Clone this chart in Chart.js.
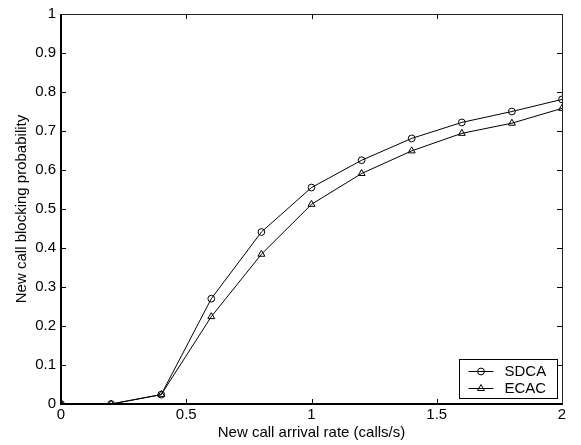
<!DOCTYPE html>
<html>
<head>
<meta charset="utf-8">
<script src="https://cdn.jsdelivr.net/npm/chart.js@4/dist/chart.umd.min.js"></script>
<style>
html,body{margin:0;padding:0;background:#fff;}
canvas{display:block;}
</style>
</head>
<body>
<canvas id="c" width="581" height="445"></canvas>
<script>
const arrivalRates = [0, 0.2, 0.4, 0.6, 0.8, 1.0, 1.2, 1.4, 1.6, 1.8, 2.0];
const sdcaValues = [0, 0, 0.024, 0.27, 0.441, 0.555, 0.625, 0.681, 0.722, 0.750, 0.781];
const ecacValues = [0, 0, 0.024, 0.224, 0.384, 0.512, 0.591, 0.649, 0.694, 0.720, 0.758];
const seriesNames = ['SDCA', 'ECAC'];
const xTickLabels = ['0', '0.5', '1', '1.5', '2'];
const yTickLabels = ['0', '0.1', '0.2', '0.3', '0.4', '0.5', '0.6', '0.7', '0.8', '0.9', '1'];
const xTitle = 'New call arrival rate (calls/s)';
const yTitle = 'New call blocking probability';

const FONT = 'Liberation Sans, Arial, Helvetica, sans-serif';

const frameAndTicks = {
  id: 'frameAndTicks',
  afterDatasetsDraw(chart) {
    const {ctx, chartArea: a, scales} = chart;
    ctx.save();
    ctx.strokeStyle = '#000';
    ctx.lineWidth = 1;
    const tl = 5;
    scales.x.ticks.forEach(t => {
      const p = Math.round(scales.x.getPixelForValue(t.value)) + 0.5;
      ctx.beginPath();
      ctx.moveTo(p, a.bottom); ctx.lineTo(p, a.bottom - tl);
      ctx.moveTo(p, a.top); ctx.lineTo(p, a.top + tl);
      ctx.stroke();
    });
    scales.y.ticks.forEach(t => {
      const p = Math.round(scales.y.getPixelForValue(t.value)) + 0.5;
      ctx.beginPath();
      ctx.moveTo(a.left, p); ctx.lineTo(a.left + tl, p);
      ctx.moveTo(a.right, p); ctx.lineTo(a.right - tl, p);
      ctx.stroke();
    });
    ctx.strokeStyle = '#222';
    ctx.lineWidth = 1;
    ctx.beginPath();
    ctx.moveTo(a.left, a.top + 0.5); ctx.lineTo(a.right + 0.5, a.top + 0.5);
    ctx.lineTo(a.right + 0.5, a.bottom);
    ctx.stroke();
    ctx.strokeStyle = '#000';
    ctx.lineWidth = 2;
    ctx.beginPath();
    ctx.moveTo(a.left, a.top); ctx.lineTo(a.left, a.bottom);
    ctx.lineTo(a.right + 1, a.bottom);
    ctx.stroke();
    ctx.restore();
  },
  afterDraw(chart) {
    const {ctx, chartArea: a} = chart;
    ctx.save();
    const bw = 98, bh = 39;
    const bx = Math.round(a.right - 5 - bw) + 0.5;
    const by = Math.round(a.bottom - 6 - bh) + 0.5;
    ctx.fillStyle = '#fff';
    ctx.fillRect(bx, by, bw, bh);
    ctx.strokeStyle = '#000';
    ctx.lineWidth = 1;
    ctx.strokeRect(bx, by, bw, bh);
    ctx.font = '15px ' + FONT;
    ctx.textBaseline = 'middle';
    chart.data.datasets.forEach((ds, i) => {
      const cy = by + 11 + i * 17.5;
      const x0 = bx + 9, x1 = bx + 34;
      ctx.beginPath();
      ctx.moveTo(x0, Math.round(cy) + 0.5); ctx.lineTo(x1, Math.round(cy) + 0.5);
      ctx.strokeStyle = '#000';
      ctx.lineWidth = 1;
      ctx.stroke();
      ctx.fillStyle = 'rgba(0,0,0,0)';
      Chart.helpers.drawPoint(ctx, {
        pointStyle: ds.pointStyle, rotation: 0, radius: ds.pointRadius, borderWidth: 1
      }, (x0 + x1) / 2, Math.round(cy) + 0.5);
      ctx.fillStyle = '#000';
      ctx.fillText(ds.label, bx + 45, cy + 1);
    });
    ctx.restore();
  }
};

function labelFor(list, value) {
  const found = list.find(s => Math.abs(parseFloat(s) - value) < 1e-6);
  return found !== undefined ? found : '';
}

new Chart(document.getElementById('c'), {
  type: 'line',
  data: {
    datasets: [
      {
        label: seriesNames[0],
        data: arrivalRates.map((x, i) => ({x, y: sdcaValues[i]})),
        borderColor: '#000', borderWidth: 1,
        pointStyle: 'circle', pointRadius: 3.4,
        pointBorderColor: '#000', pointBackgroundColor: 'rgba(0,0,0,0)', pointBorderWidth: 1,
        tension: 0, fill: false
      },
      {
        label: seriesNames[1],
        data: arrivalRates.map((x, i) => ({x, y: ecacValues[i]})),
        borderColor: '#000', borderWidth: 1,
        pointStyle: 'triangle', pointRadius: 4,
        pointBorderColor: '#000', pointBackgroundColor: 'rgba(0,0,0,0)', pointBorderWidth: 1,
        tension: 0, fill: false
      }
    ]
  },
  options: {
    responsive: false,
    animation: false,
    devicePixelRatio: 1,
    layout: {padding: {left: 0, right: 19, top: 9, bottom: 0}},
    plugins: {legend: {display: false}, tooltip: {enabled: false}},
    scales: {
      x: {
        type: 'linear', min: 0, max: 2,
        ticks: {stepSize: 0.5, color: '#000', font: {family: FONT, size: 15}, padding: 2, maxRotation: 0,
                callback: v => labelFor(xTickLabels, v)},
        grid: {display: false, drawTicks: false},
        border: {display: false},
        title: {display: true, text: xTitle, color: '#000', font: {family: FONT, size: 15}, padding: {top: 0, bottom: 3}},
        afterFit(s) { s.height = 41; }
      },
      y: {
        type: 'linear', min: 0, max: 1,
        ticks: {stepSize: 0.1, color: '#000', font: {family: FONT, size: 15}, padding: 5,
                callback: v => labelFor(yTickLabels, v)},
        grid: {display: false, drawTicks: false},
        border: {display: false},
        title: {display: true, text: yTitle, color: '#000', font: {family: FONT, size: 15}, padding: {top: 13, bottom: 0}},
        afterFit(s) { s.width = 61; }
      }
    }
  },
  plugins: [frameAndTicks]
});
</script>
</body>
</html>
